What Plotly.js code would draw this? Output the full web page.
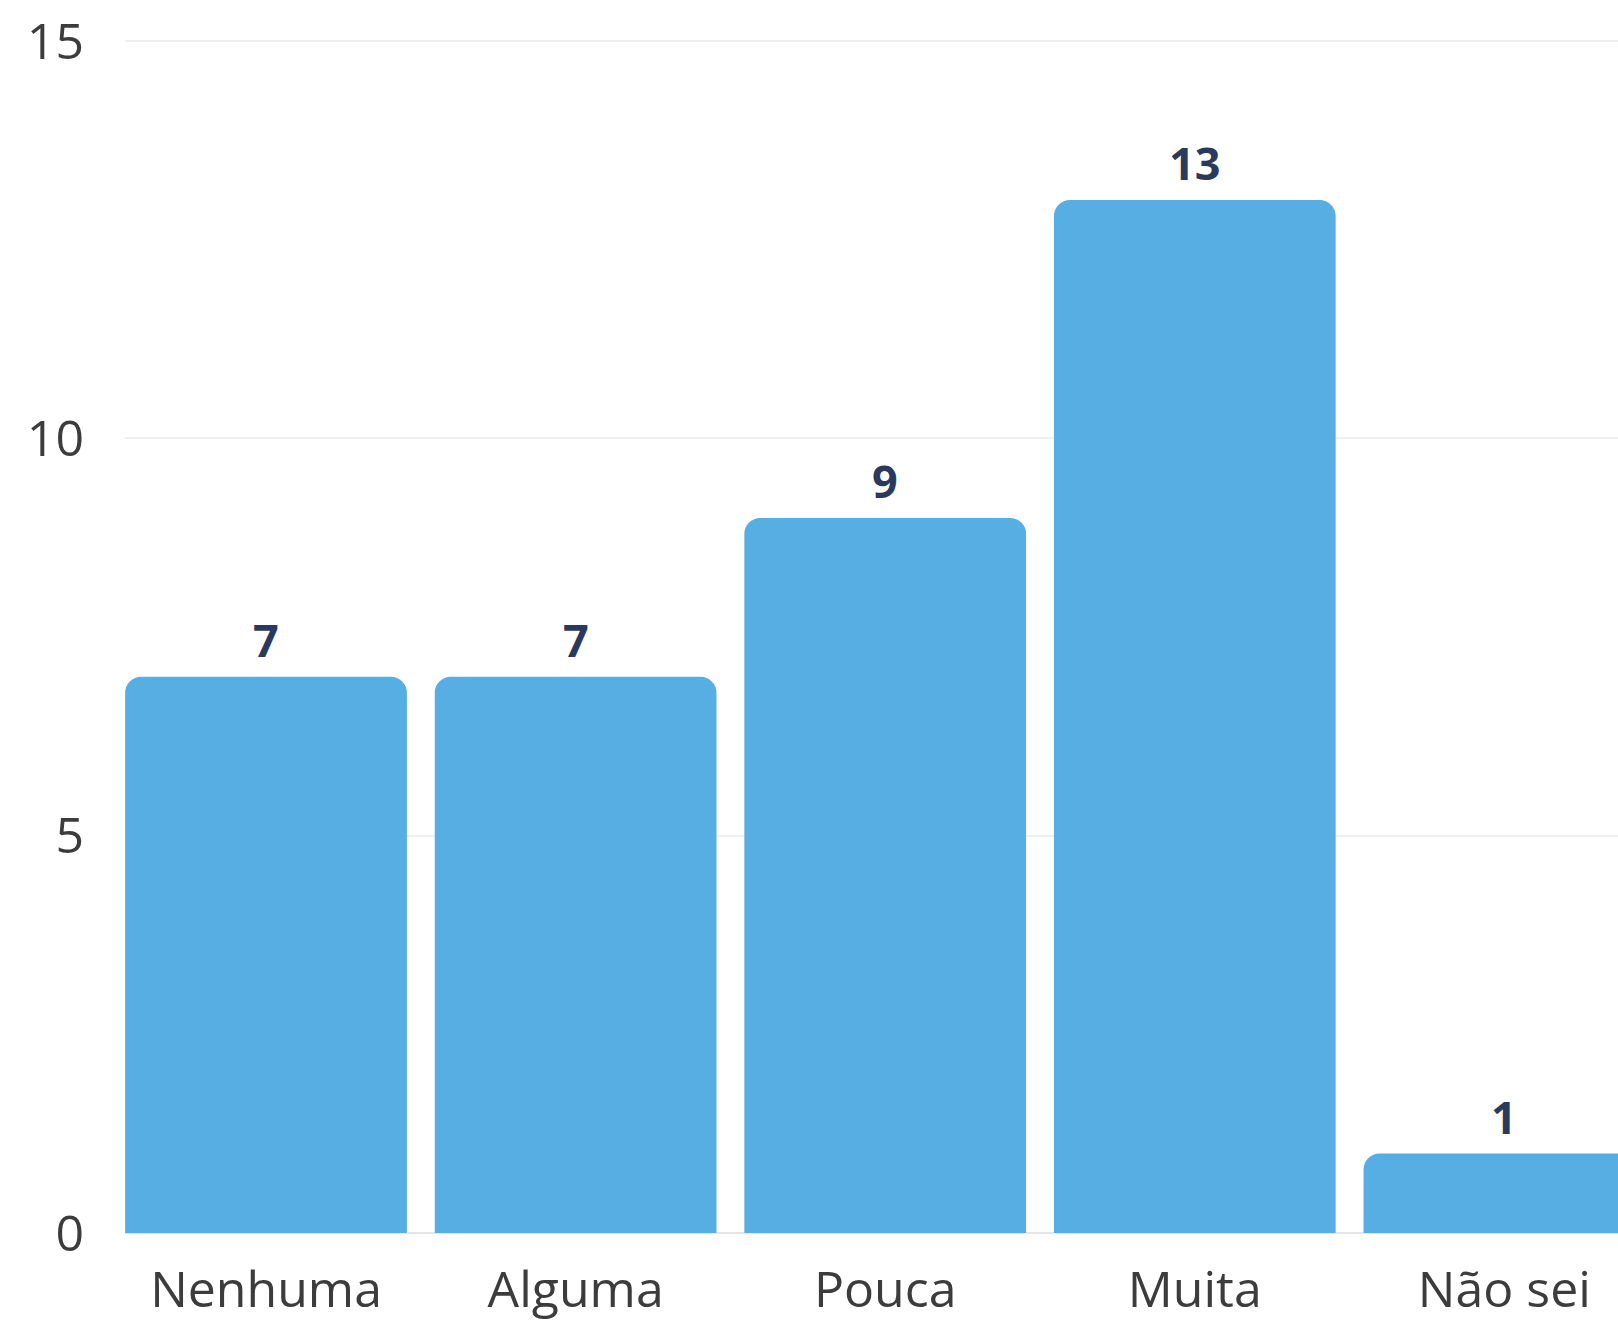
<!DOCTYPE html>
<html>
<head>
<meta charset="utf-8">
<script src="https://cdn.plot.ly/plotly-3.0.1.min.js"></script>
<style>html,body{margin:0;padding:0;background:#fff;overflow:hidden}</style>
</head>
<body>
<div id="chart" style="width:1618px;height:1323px"></div>
<script>
const categories = ["Nenhuma", "Alguma", "Pouca", "Muita", "Não sei"];
const values = [7, 7, 9, 13, 1];
const yTickVals = [0, 5, 10, 15];

const barColor = "#57aee2";
const labelColor = "#2b3a5c";
const tickColor = "#3c3c3c";

const trace = {
  type: "bar",
  x: categories,
  y: values,
  marker: { color: barColor, cornerradius: 16 },
  hoverinfo: "none",
  cliponaxis: true
};

const annotations = categories.map((c, i) => ({
  x: c,
  y: values[i],
  xref: "x",
  yref: "y",
  text: "<b>" + values[i] + "</b>",
  showarrow: false,
  yanchor: "bottom",
  yshift: 5,
  font: { family: "Open Sans", size: 45, color: labelColor }
}));

const layout = {
  width: 1618,
  height: 1323,
  margin: { l: 125, r: 0, t: 38, b: 90 },
  paper_bgcolor: "#ffffff",
  plot_bgcolor: "#ffffff",
  showlegend: false,
  bargap: 0.09,
  font: { family: "Open Sans", color: tickColor },
  xaxis: {
    type: "category",
    range: [-0.4555, 4.367],
    showgrid: false,
    zeroline: false,
    showline: false,
    ticks: "outside",
    ticklen: 13,
    tickcolor: "rgba(0,0,0,0)",
    tickfont: { family: "Open Sans", size: 50, color: tickColor },
    fixedrange: true
  },
  yaxis: {
    range: [0, 15.04],
    tickvals: yTickVals,
    ticktext: yTickVals.map(String),
    showgrid: true,
    gridcolor: "#f0f0f0",
    gridwidth: 2,
    zeroline: true,
    zerolinecolor: "#e6e6e6",
    zerolinewidth: 2,
    showline: false,
    ticks: "outside",
    ticklen: 30,
    tickcolor: "rgba(0,0,0,0)",
    tickfont: { family: "Open Sans", size: 50, color: tickColor },
    fixedrange: true
  },
  annotations: annotations
};

Plotly.newPlot("chart", [trace], layout, { displayModeBar: false, staticPlot: true });
</script>
</body>
</html>
